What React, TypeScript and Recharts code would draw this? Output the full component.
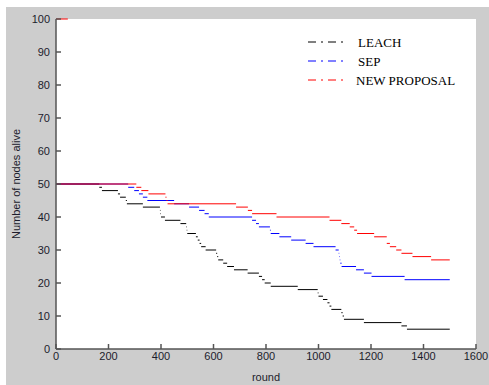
import { LineChart, Line, XAxis, YAxis, Legend, CartesianGrid } from "recharts";

// rounds where the number of alive nodes changes, and the value from that round on
const leachRounds = [0, 165, 175, 236, 244, 266, 270, 331, 396, 398, 400, 415, 474, 496, 498, 500, 533, 540, 547, 553, 570, 610, 614, 618, 637, 652, 678, 730, 773, 785, 795, 818, 921, 997, 1000, 1017, 1034, 1042, 1049, 1087, 1092, 1097, 1173, 1316, 1337];
const leachAlive = [50, 49, 48, 47, 46, 45, 44, 43, 42, 41, 40, 39, 38, 37, 36, 35, 34, 33, 32, 31, 30, 29, 28, 27, 26, 25, 24, 23, 22, 21, 20, 19, 18, 17, 16, 15, 14, 13, 12, 11, 10, 9, 8, 7, 6];

const sepRounds = [0, 275, 298, 316, 331, 348, 450, 507, 545, 566, 582, 747, 762, 773, 815, 818, 851, 896, 951, 981, 1065, 1077, 1079, 1081, 1083, 1088, 1143, 1173, 1202, 1328];
const sepAlive = [50, 49, 48, 47, 46, 45, 44, 43, 42, 41, 40, 39, 38, 37, 36, 35, 34, 33, 32, 31, 30, 29, 28, 27, 26, 25, 24, 23, 22, 21];

const proposalRounds = [0, 306, 325, 352, 417, 421, 425, 686, 731, 747, 840, 1042, 1087, 1119, 1136, 1147, 1212, 1260, 1272, 1296, 1316, 1358, 1429];
const proposalAlive = [50, 49, 48, 47, 46, 45, 44, 43, 42, 41, 40, 39, 38, 37, 36, 35, 34, 32, 31, 30, 29, 28, 27];
// short mark at 100 at the start of the proposal curve
const proposalStartRounds = [0, 45];
const proposalStartAlive = 100;

const lastRound = 1500;
const seriesNames = ["LEACH", "SEP", "NEW PROPOSAL"];
const xTicks = [0, 200, 400, 600, 800, 1000, 1200, 1400, 1600];
const yTicks = [0, 10, 20, 30, 40, 50, 60, 70, 80, 90, 100];

type Pt = { round: number; alive: number | null };

// horizontal pieces only, broken by nulls (risers are hidden by the dash-dot style)
function steps(rounds: number[], alive: number[]): Pt[] {
  const pts: Pt[] = [];
  rounds.forEach((r, i) => {
    const end = i + 1 < rounds.length ? rounds[i + 1] : lastRound;
    pts.push({ round: r, alive: alive[i] });
    pts.push({ round: end, alive: alive[i] });
    pts.push({ round: end, alive: null });
  });
  return pts;
}

const leachData = steps(leachRounds, leachAlive);
const sepData = steps(sepRounds, sepAlive);
const proposalData = [
  { round: proposalStartRounds[0], alive: proposalStartAlive },
  { round: proposalStartRounds[1], alive: proposalStartAlive },
  { round: proposalStartRounds[1], alive: null },
  ...steps(proposalRounds, proposalAlive),
];

const axisColor = "#555";
const tickFont = { fontSize: 11, fill: "#1c1c2c", fontFamily: "Liberation Sans, Arial, sans-serif" };

function LegendBox({ payload }: any) {
  if (!payload) return null;
  const items = seriesNames.map((n) => payload.find((p: any) => p.value === n)).filter(Boolean);
  return (
    <svg width={180} height={60} style={{ display: "block" }}>
      {items.map((p: any, i: number) => (
        <g key={p.value}>
          <line x1={8} x2={48} y1={12 + i * 19} y2={12 + i * 19} stroke={p.color} strokeDasharray="8 5 2 5" strokeWidth={1} />
          <text
            x={i === 2 ? 56 : 58}
            y={12 + i * 19}
            dy="0.35em"
            fontSize={13}
            fontFamily="Liberation Serif, Times New Roman, serif"
            fill="#000"
          >
            {p.value}
          </text>
        </g>
      ))}
    </svg>
  );
}

export default function App() {
  return (
    <div style={{ position: "absolute", left: 0, top: 0, width: 489, height: 385, background: "#fff" }}>
      <div style={{ position: "absolute", left: 6, top: 7, width: 483, height: 378, background: "#cdcdcd" }} />
      <div style={{ position: "absolute", left: 0, top: 0 }}>
        <LineChart width={489} height={385} margin={{ top: 19, right: 13, bottom: 0, left: 0 }}>
          <CartesianGrid xAxisId="b" yAxisId="l" fill="#ffffff" horizontal={false} vertical={false} />
          <XAxis
            xAxisId="b"
            type="number"
            dataKey="round"
            domain={[0, 1600]}
            ticks={xTicks}
            height={36}
            tickSize={-5}
            tickMargin={8}
            tick={tickFont}
            stroke={axisColor}
            strokeWidth={1.5}
            label={{ value: "round", position: "insideBottom", offset: 4, style: tickFont }}
          />
          <XAxis
            xAxisId="t"
            orientation="top"
            type="number"
            dataKey="round"
            domain={[0, 1600]}
            ticks={xTicks}
            height={0}
            tickSize={-5}
            tickFormatter={() => ""}
            stroke={axisColor}
            strokeWidth={1.5}
          />
          <YAxis
            yAxisId="l"
            type="number"
            domain={[0, 100]}
            ticks={yTicks}
            width={56}
            tickSize={-5}
            tickMargin={11}
            tick={tickFont}
            stroke={axisColor}
            strokeWidth={1.5}
            label={{
              content: ({ viewBox }: any) => (
                <text
                  x={16}
                  y={viewBox.y + viewBox.height / 2}
                  transform={`rotate(-90 16 ${viewBox.y + viewBox.height / 2})`}
                  textAnchor="middle"
                  dy="0.35em"
                  {...tickFont}
                >
                  Number of nodes alive
                </text>
              ),
            }}
          />
          <YAxis
            yAxisId="r"
            orientation="right"
            type="number"
            domain={[0, 100]}
            ticks={yTicks}
            width={0}
            tickSize={-5}
            tickFormatter={() => ""}
            stroke={axisColor}
            strokeWidth={1.5}
          />
          <Legend
            layout="horizontal"
            verticalAlign="middle"
            content={<LegendBox />}
            wrapperStyle={{ position: "absolute", left: 300, top: 30, width: 180, height: 60 }}
          />
          <Line
            xAxisId="b"
            yAxisId="l"
            data={leachData}
            dataKey="alive"
            name="LEACH"
            stroke="#000000"
            strokeWidth={1}
            dot={false}
            isAnimationActive={false}
            connectNulls={false}
          />
          <Line
            xAxisId="b"
            yAxisId="l"
            data={sepData}
            dataKey="alive"
            name="SEP"
            stroke="#0000ff"
            strokeWidth={1}
            dot={false}
            isAnimationActive={false}
            connectNulls={false}
          />
          <Line
            xAxisId="b"
            yAxisId="l"
            data={proposalData}
            dataKey="alive"
            name="NEW PROPOSAL"
            stroke="#ff0000"
            strokeWidth={1}
            dot={false}
            isAnimationActive={false}
            connectNulls={false}
          />
        </LineChart>
      </div>
    </div>
  );
}
